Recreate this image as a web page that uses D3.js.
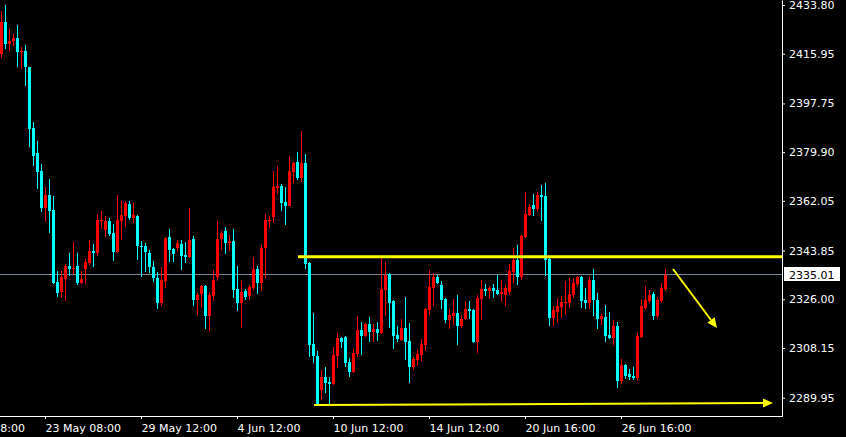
<!DOCTYPE html>
<html><head><meta charset="utf-8">
<script src="https://cdn.jsdelivr.net/npm/d3@7"></script>
<style>
html,body{margin:0;padding:0;background:#000;overflow:hidden;}
svg{display:block;}
text{font-family:"DejaVu Sans",sans-serif;font-size:11px;}
</style></head><body>
<svg id="c" width="846" height="437"></svg>
<script>
// ---- data (H4 candles) ----
const opens=[
2415.96,2427.57,2419.62,2420.72,2421.71,2416.69,2416.95,2411.09,2388.74,2379.70,
2372.99,2359.55,2364.20,2358.71,2332.33,2328.78,2333.54,2338.19,2337.10,2338.19,
2331.97,2337.10,2339.29,2343.69,2342.96,2354.68,2351.38,2354.68,2350.28,2343.32,
2354.68,2356.51,2360.91,2355.78,2356.51,2345.52,2345.52,2342.96,2337.83,2333.91,
2324.75,2332.81,2348.82,2344.42,2344.90,2346.25,2342.22,2341.49,2348.08,2325.85,
2328.05,2330.87,2319.99,2327.32,2334.27,2348.08,2351.02,2346.73,2347.35,2329.77,
2324.75,2329.15,2327.32,2330.25,2337.10,2332.08,2344.90,2354.79,2356.14,2366.88,
2367.50,2361.64,2360.28,2372.74,2376.29,2370.54,2375.92,2339.29,2309.62,2305.23,
2292.77,2297.53,2295.70,2294.97,2305.23,2311.82,2312.19,2303.03,2299.37,2305.96,
2314.75,2312.55,2316.95,2314.02,2315.12,2313.65,2329.40,2335.26,2325.37,2312.92,
2311.09,2315.48,2310.72,2301.20,2303.76,2305.59,2309.26,2322.08,2330.14,2334.16,
2331.23,2326.11,2318.41,2319.88,2320.98,2316.22,2318.78,2322.44,2322.08,2310.36,
2326.11,2329.77,2329.04,2330.14,2329.40,2328.12,2327.57,2328.67,2336.00,2340.39,
2334.16,2348.82,2356.88,2360.54,2359.07,2364.20,2363.84,2340.76,2319.15,2321.34,
2323.18,2324.82,2324.64,2327.57,2331.60,2334.16,2325.74,2324.64,2333.07,2325.74,
2318.96,2319.51,2312.92,2311.82,2316.22,2296.07,2301.93,2298.63,2297.90,2297.17,
2312.19,2322.81,2325.37,2327.94,2319.88,2325.37,2329.77];
const highs=[
2431.60,2433.80,2425.01,2423.29,2426.47,2418.41,2419.15,2411.20,2390.94,2383.98,
2375.56,2367.13,2370.06,2363.84,2336.36,2336.36,2338.93,2342.96,2346.99,2342.96,
2336.36,2340.76,2347.72,2346.25,2357.24,2358.34,2356.51,2355.78,2353.58,2364.20,
2362.00,2362.00,2362.00,2361.27,2356.88,2347.35,2346.62,2344.06,2340.03,2336.11,
2337.83,2348.82,2351.75,2344.79,2347.72,2347.72,2346.99,2359.44,2349.18,2328.41,
2331.23,2331.23,2328.78,2336.73,2354.68,2351.02,2352.48,2349.55,2351.75,2338.19,
2332.70,2329.88,2331.34,2341.49,2338.19,2345.89,2357.24,2356.51,2372.99,2374.82,
2368.23,2367.13,2378.49,2376.29,2379.95,2387.65,2379.22,2339.66,2320.98,2307.06,
2300.10,2301.20,2297.53,2308.52,2313.65,2312.19,2312.55,2304.49,2307.79,2319.88,
2317.68,2317.31,2319.51,2316.95,2317.68,2341.12,2339.66,2335.63,2325.74,2316.22,
2318.78,2326.84,2317.31,2304.86,2307.43,2311.45,2322.81,2336.73,2335.63,2334.90,
2332.70,2326.47,2322.44,2326.11,2327.57,2320.25,2325.37,2325.37,2322.44,2327.57,
2333.07,2331.60,2330.87,2331.60,2334.90,2333.07,2331.23,2338.93,2344.79,2345.89,
2349.55,2365.30,2360.91,2364.57,2365.30,2367.86,2368.60,2341.12,2323.54,2326.47,
2327.21,2332.70,2333.80,2333.43,2334.53,2334.53,2330.14,2334.16,2337.10,2328.30,
2320.61,2323.91,2321.34,2318.41,2317.68,2304.13,2302.30,2300.46,2301.20,2313.65,
2326.11,2330.87,2329.40,2328.67,2326.84,2331.97,2337.10];
const lows=[
2414.49,2417.79,2417.06,2418.89,2411.20,2410.47,2404.24,2381.89,2374.93,2366.51,
2358.08,2354.42,2350.39,2331.60,2326.95,2326.58,2325.37,2334.53,2335.26,2331.23,
2331.60,2331.60,2338.56,2337.83,2341.86,2351.75,2348.82,2349.18,2340.03,2342.96,
2347.72,2352.48,2355.04,2353.95,2340.39,2334.16,2336.00,2335.63,2332.44,2322.55,
2323.65,2330.25,2339.77,2339.77,2343.32,2336.84,2339.29,2341.12,2323.65,2320.36,
2322.92,2315.23,2314.49,2325.48,2332.81,2344.06,2342.59,2343.80,2326.58,2321.82,
2315.59,2325.85,2325.85,2329.51,2328.05,2329.15,2333.91,2352.22,2354.06,2364.68,
2358.45,2353.32,2360.17,2368.71,2369.81,2369.07,2337.21,2304.97,2302.66,2287.28,
2289.11,2291.67,2287.65,2294.60,2300.83,2308.16,2301.20,2297.53,2299.00,2304.86,
2305.59,2312.19,2310.36,2310.36,2310.72,2313.29,2319.88,2315.48,2307.79,2310.36,
2310.72,2303.76,2295.34,2300.10,2301.56,2303.40,2307.06,2320.25,2323.54,2331.60,
2322.44,2317.31,2315.12,2316.58,2309.26,2315.48,2318.41,2318.78,2309.99,2306.33,
2318.41,2327.21,2326.11,2326.47,2327.57,2325.01,2323.54,2327.57,2331.97,2331.23,
2333.07,2348.45,2356.51,2356.51,2357.97,2354.68,2334.53,2316.22,2316.22,2317.31,
2319.15,2320.25,2322.81,2326.47,2330.87,2322.81,2322.44,2322.44,2319.88,2315.12,
2316.58,2310.36,2311.45,2309.26,2293.51,2294.97,2296.80,2296.44,2296.44,2296.07,
2311.82,2322.08,2324.64,2318.41,2319.15,2324.64,2329.04];
const closes=[
2427.57,2419.62,2420.61,2421.71,2416.69,2417.06,2411.20,2388.49,2378.60,2372.74,
2359.55,2364.20,2358.45,2331.86,2328.41,2334.16,2338.19,2337.10,2337.57,2331.97,
2333.43,2339.66,2343.69,2342.96,2355.04,2355.04,2354.68,2349.92,2343.32,2355.04,
2356.88,2361.27,2355.78,2356.88,2345.52,2345.15,2343.32,2337.83,2333.91,2324.75,
2333.07,2348.45,2344.17,2342.70,2346.62,2341.97,2341.49,2347.72,2325.85,2327.68,
2330.87,2319.99,2327.68,2333.07,2348.08,2350.28,2346.73,2347.35,2329.51,2324.75,
2328.78,2326.95,2330.61,2337.10,2332.08,2344.79,2355.04,2355.15,2367.13,2367.50,
2361.27,2360.28,2372.99,2375.92,2370.54,2375.92,2338.93,2309.37,2305.23,2287.65,
2297.53,2295.34,2294.97,2305.59,2311.82,2310.36,2302.66,2299.37,2306.33,2314.75,
2312.55,2316.95,2314.02,2315.12,2313.65,2329.77,2334.90,2324.64,2312.55,2311.45,
2315.48,2310.36,2301.20,2304.13,2305.96,2309.62,2322.44,2330.50,2334.16,2331.97,
2325.74,2318.41,2320.25,2320.98,2316.22,2318.78,2322.44,2321.71,2310.36,2326.47,
2329.77,2329.04,2330.14,2329.04,2327.94,2328.49,2330.14,2336.36,2340.39,2334.16,
2349.18,2357.24,2359.81,2359.07,2364.20,2363.47,2340.39,2319.15,2322.08,2323.54,
2325.01,2325.19,2327.94,2331.97,2334.16,2325.37,2324.64,2333.07,2325.56,2318.78,
2319.70,2312.55,2311.82,2316.22,2296.07,2301.93,2297.90,2297.53,2297.17,2312.55,
2323.54,2325.74,2327.57,2319.88,2325.74,2330.14,2335.01];

const yTicks=[2433.80,2415.95,2397.75,2379.90,2362.05,2343.85,2326.00,2308.15,2289.95];
const xTickIdx=[-13,11,35,59,83,107,131,155];
const xTickLabels=["17 May 08:00","23 May 08:00","29 May 12:00","4 Jun 12:00","10 Jun 12:00","14 Jun 12:00","20 Jun 16:00","26 Jun 16:00"];
const bidPrice=2335.01;
const levelPrices=[2341.60];
const levelStartIdx=[74.5];
const arrowStartIdx=[78.5,168.25];
const arrowStartPrice=[2287.28,2337.10];
const arrowEndIdx=[193.25,179.25];
const arrowEndPrice=[2288.01,2315.48];

// ---- drawing ----
const W=846,H=437,PR=782,PB=416;
const svg=d3.select("#c");
svg.append("rect").attr("width",W).attr("height",H).attr("fill","#000");
svg.append("defs").append("clipPath").attr("id","clip")
  .append("rect").attr("x",0).attr("y",0).attr("width",PR).attr("height",PB);

const x=d3.scaleLinear().domain([0,195.5]).range([0,PR]);
const y=d3.scaleLinear().domain([2283.25,2435.63]).range([PB,0]);

const plot=svg.append("g").attr("clip-path","url(#clip)");

// bid line
const by=Math.floor(y(bidPrice))+0.5;
plot.append("line").attr("x1",0).attr("x2",PR).attr("y1",by).attr("y2",by)
  .attr("stroke","#778899").attr("stroke-width",1);

const data=opens.map((o,i)=>({i,o,h:highs[i],l:lows[i],c:closes[i]}));
const cg=plot.append("g").attr("shape-rendering","crispEdges");
const col=d=>d.c>=d.o?"#ff0000":"#00ffff";
cg.selectAll("rect.w").data(data).join("rect").attr("class","w")
  .attr("x",d=>Math.round(x(d.i))+1).attr("width",1)
  .attr("y",d=>Math.round(y(d.h)))
  .attr("height",d=>Math.max(1,Math.round(y(d.l))-Math.round(y(d.h))))
  .attr("fill",col);
cg.selectAll("rect.b").data(data).join("rect").attr("class","b")
  .attr("x",d=>Math.round(x(d.i))).attr("width",3)
  .attr("y",d=>Math.round(y(Math.max(d.o,d.c))))
  .attr("height",d=>Math.max(1,Math.round(y(Math.min(d.o,d.c)))-Math.round(y(Math.max(d.o,d.c)))))
  .attr("fill",col);

// horizontal level
levelPrices.forEach((p,k)=>{
  plot.append("line").attr("x1",x(levelStartIdx[k])).attr("x2",PR)
    .attr("y1",y(p)).attr("y2",y(p)).attr("stroke","#ffff00").attr("stroke-width",3);
});

// arrows
arrowStartIdx.forEach((s,k)=>{
  const x1=x(s),y1=y(arrowStartPrice[k]),x2=x(arrowEndIdx[k]),y2=y(arrowEndPrice[k]);
  const dx=x2-x1,dy=y2-y1,len=Math.hypot(dx,dy),ux=dx/len,uy=dy/len;
  const hl=10,hw=4.5;
  const bx=x2-ux*hl,byy=y2-uy*hl;
  plot.append("line").attr("x1",x1).attr("y1",y1).attr("x2",bx).attr("y2",byy)
    .attr("stroke","#ffff00").attr("stroke-width",2);
  plot.append("path").attr("d",`M${x2},${y2}L${bx-uy*hw},${byy+ux*hw}L${bx+uy*hw},${byy-ux*hw}Z`)
    .attr("fill","#ffff00");
});

// right axis
const ay=svg.append("g").attr("transform",`translate(${PR},0)`)
  .call(d3.axisRight(y).tickValues(yTicks).tickFormat(d3.format(".2f")).tickSize(3).tickPadding(4).tickSizeOuter(0));
ay.select(".domain").attr("stroke","#fff");
ay.selectAll(".tick line").attr("stroke","#fff");
ay.selectAll(".tick text").attr("fill","#fff").style("font-family","DejaVu Sans").style("font-size","11px");
ay.attr("font-family",null).attr("font-size",null);

// bottom axis
svg.append("line").attr("x1",0).attr("x2",PR+1).attr("y1",PB+0.5).attr("y2",PB+0.5)
  .attr("stroke","#fff").attr("stroke-width",1);
const ax=svg.append("g").attr("transform",`translate(1,${PB})`)
  .call(d3.axisBottom(x).tickValues(xTickIdx).tickFormat((d,i)=>xTickLabels[i]).tickSize(3).tickSizeOuter(0));
ax.select(".domain").remove();
ax.selectAll(".tick line").attr("stroke","#fff");
ax.selectAll(".tick text").attr("fill","#fff").attr("text-anchor","start")
  .attr("x",0).attr("y",16).attr("dy",null)
  .style("font-family","DejaVu Sans").style("font-size","11px");
ax.attr("font-family",null).attr("font-size",null);

// current price label
const bpy=y(bidPrice);
svg.append("rect").attr("x",PR+2).attr("y",Math.round(bpy)-8).attr("width",56).attr("height",14).attr("fill","#fff");
svg.append("text").attr("x",PR+7).attr("y",Math.round(bpy)+4).attr("fill","#000")
  .text(d3.format(".2f")(bidPrice));
</script>
</body></html>
